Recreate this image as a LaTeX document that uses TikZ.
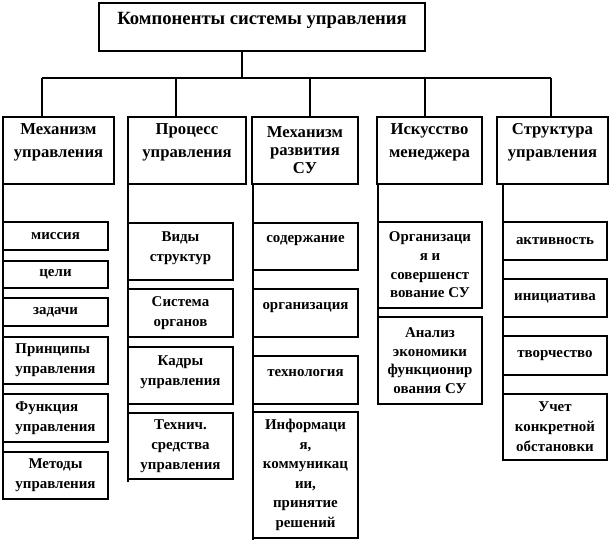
\documentclass[tikz,border=0pt]{standalone}
\usepackage{fontspec}
\setmainfont{Liberation Serif}
\begin{document}
\begin{tikzpicture}[x=0.75pt,y=-0.75pt,
  line width=0.8pt,
  box/.style={draw=black, fill=white, inner sep=0pt, align=center},
  ttl/.style={font=\bfseries\fontsize{14}{17}\selectfont, inner sep=0pt},
  lvl/.style={font=\bfseries\fontsize{12.5}{17}\selectfont, inner sep=0pt, align=center},
  lvlc/.style={font=\bfseries\fontsize{12.5}{13.5}\selectfont},
  sub/.style={box, font=\bfseries\fontsize{11.2}{15}\selectfont},
  subt/.style={font=\bfseries\fontsize{11.2}{15}\selectfont, inner sep=0pt, align=center},
  link/.style={draw=black, line width=0.8pt}]
\useasboundingbox (0,0) rectangle (611,541);

% top box
\node[box, minimum width=244.5pt, minimum height=36pt] (top) at (262,27) {};
\node[ttl] (topt) at (262,20) {Компоненты системы управления};

% bus and drops
\coordinate (c0) at (242,78);
\coordinate (bL) at (42,78);
\coordinate (bR) at (551,78);
\coordinate (d1) at (42,78);
\coordinate (d2) at (176,78);
\coordinate (d3) at (310,78);
\coordinate (d4) at (425,78);
\coordinate (d5) at (551,78);
\draw[link] (top.south -| c0) -- (c0);
\draw[link] (bL) -- (bR);

% level 2
\node[box, minimum width=83.25pt, minimum height=50.25pt] (B1) at (58.5,150.5) {};
\node[lvl] (B1t) at (58.5,142.5) {Механизм\\управления};
\node[box, minimum width=88.5pt, minimum height=50.25pt] (B2) at (187,150.5) {};
\node[lvl] (B2t) at (187,142.5) {Процесс\\управления};
\node[box, lvlc, minimum width=79.5pt, minimum height=50.25pt] (B3) at (305,150.5) {Механизм\\развития\\СУ};
\node[box, minimum width=78.75pt, minimum height=50.25pt] (B4) at (429.5,150.5) {};
\node[lvl] (B4t) at (429.5,142) {Искусство\\менеджера};
\node[box, minimum width=83.25pt, minimum height=50.25pt] (B5) at (552.5,150.5) {};
\node[lvl] (B5t) at (552.5,142) {Структура\\управления};

\draw[link] (d1) -- (d1 |- B1.north);
\draw[link] (d2) -- (d2 |- B2.north);
\draw[link] (d3) -- (d3 |- B3.north);
\draw[link] (d4) -- (d4 |- B4.north);
\draw[link] (d5) -- (d5 |- B5.north);

% column lines
\coordinate (s1) at (3,184);   \coordinate (e1) at (3,500);
\coordinate (s2) at (128,184); \coordinate (e2) at (128,482);
\coordinate (s3) at (253,184); \coordinate (e3) at (253,540);
\coordinate (s4) at (378,184); \coordinate (e4) at (378,404);
\coordinate (s5) at (503,184); \coordinate (e5) at (503,460);
\draw[link] (s1) -- (e1);
\draw[link] (s2) -- (e2);
\draw[link] (s3) -- (e3);
\draw[link] (s4) -- (e4);
\draw[link] (s5) -- (e5);

% column 1
\node[sub, minimum width=78.75pt, minimum height=21pt] (m1) at (55.5,236) {миссия};
\node[sub, minimum width=78.75pt, minimum height=20.25pt] (m2) at (55.5,274.5) {цели};
\node[sub, minimum width=78.75pt, minimum height=21pt] (m3) at (55.5,312) {задачи};
\node[sub, align=left, minimum width=78.75pt, minimum height=35.25pt] (m4) at (55.5,360.5) {Принципы\\управления};
\node[sub, align=left, minimum width=78.75pt, minimum height=36pt] (m5) at (55.5,418) {Функция\\управления};
\node[sub, minimum width=78.75pt, minimum height=35.25pt] (m6) at (55.5,475.5) {Методы\\управления};

% column 2
\node[sub, minimum width=78.75pt, minimum height=42.75pt] (p1) at (180.5,251.5) {};
\node[subt] (p1t) at (180.5,248) {Виды\\структур};
\node[sub, minimum width=78.75pt, minimum height=36pt] (p2) at (180.5,313) {Система\\органов};
\node[sub, minimum width=78.75pt, minimum height=42.75pt] (p3) at (180.5,375.5) {};
\node[subt] (p3t) at (180.5,372) {Кадры\\управления};
\node[sub, minimum width=78.75pt, minimum height=49.5pt] (p4) at (180.5,446) {Технич.\\средства\\управления};

% column 3
\node[sub, minimum width=78.75pt, minimum height=35.25pt] (r1) at (305.5,246.5) {};
\node[subt] (r1t) at (305.5,241) {содержание};
\node[sub, minimum width=78.75pt, minimum height=36pt] (r2) at (305.5,313) {};
\node[subt] (r2t) at (305.5,308) {организация};
\node[sub, minimum width=78.75pt, minimum height=36pt] (r3) at (305.5,380) {};
\node[subt] (r3t) at (305.5,373) {технология};
\node[sub, font=\bfseries\fontsize{11.2}{14.7}\selectfont, minimum width=78.75pt, minimum height=94.5pt] (r4) at (305.5,475) {Информаци\\я,\\коммуникац\\ии,\\принятие\\решений};

% column 4
\node[sub, font=\bfseries\fontsize{11.2}{14}\selectfont, minimum width=78pt, minimum height=64.5pt] (i1) at (430,265) {Организаци\\я и\\совершенст\\вование СУ};
\node[sub, font=\bfseries\fontsize{11.2}{14}\selectfont, minimum width=78pt, minimum height=65.25pt] (i2) at (430,360.5) {Анализ\\экономики\\функционир\\ования СУ};

% column 5
\node[sub, minimum width=78pt, minimum height=28.5pt] (k1) at (555,241) {активность};
\node[sub, minimum width=78pt, minimum height=28.5pt] (k2) at (555,298) {инициатива};
\node[sub, minimum width=78pt, minimum height=29.25pt] (k3) at (555,355.5) {творчество};
\node[sub, minimum width=78pt, minimum height=49.5pt] (k4) at (555,427) {Учет\\конкретной\\обстановки};
\end{tikzpicture}
\end{document}
